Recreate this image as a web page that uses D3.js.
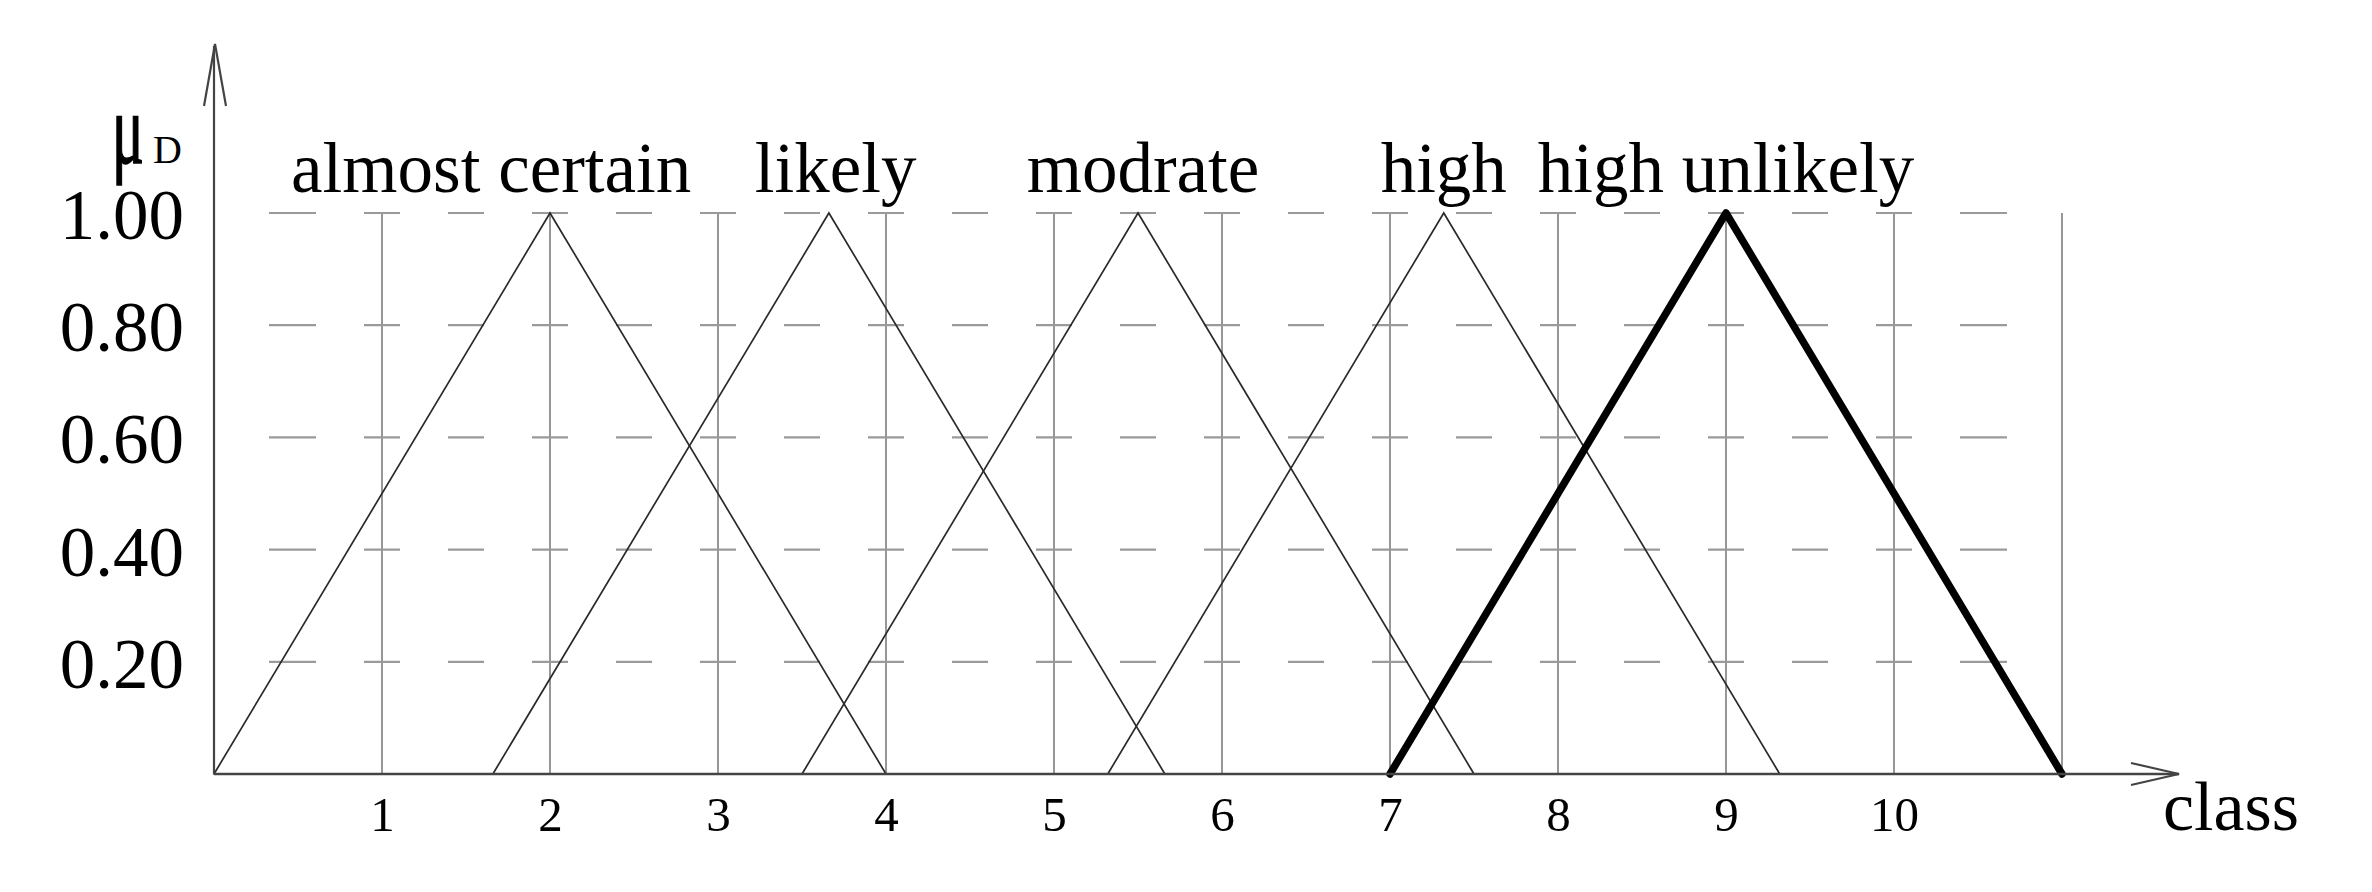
<!DOCTYPE html>
<html>
<head>
<meta charset="utf-8">
<script src="https://cdn.jsdelivr.net/npm/d3@7"></script>
<style>
  html, body { margin: 0; padding: 0; background: #fff; }
  svg { display: block; }
  text { font-family: "Liberation Serif", "Times New Roman", serif; fill: #000; }
</style>
</head>
<body>
<svg id="chart" width="2372" height="892"></svg>
<script>
// ---- data ----
const categories = ["almost certain", "likely", "modrate", "high", "high unlikely"];
const leftFoot   = [0.00, 1.66, 3.50, 5.32, 7.00];
const peak       = [2.00, 3.66, 5.50, 7.32, 9.00];
const rightFoot  = [4.00, 5.66, 7.50, 9.32, 11.00];
const highlighted = [false, false, false, false, true];
const labelPos   = [1.65, 3.70, 5.53, 7.32, 9.00];
const xTicks = [1, 2, 3, 4, 5, 6, 7, 8, 9, 10];
const xGrid  = [1, 2, 3, 4, 5, 6, 7, 8, 9, 10, 11];
const yTicks = [0.2, 0.4, 0.6, 0.8, 1.0];
const yTickLabels = ["0.20", "0.40", "0.60", "0.80", "1.00"];
const dashCenters = d3.range(1, 22).map(k => k / 2);   // 0.5 ... 10.5

// ---- layout ----
const svg = d3.select("#chart");
const x = d3.scaleLinear().domain([0, 11]).range([214, 2062]);
const y = d3.scaleLinear().domain([0, 1]).range([774, 213]);

const serif = '"Liberation Serif", "Times New Roman", serif';

// vertical grid lines
svg.append("g").selectAll("line").data(xGrid).join("line")
  .attr("x1", d => x(d)).attr("x2", d => x(d))
  .attr("y1", y(1)).attr("y2", y(0))
  .attr("stroke", "#8c8c8c").attr("stroke-width", 1.8);

// horizontal dashed grid lines (dashes centred on half units)
const dashHalf = 18, endExtra = 11;
const dashData = [];
yTicks.forEach(v => dashCenters.forEach((c, i) => {
  const x0 = x(c) - dashHalf - (i === 0 ? endExtra : 0);
  const x1 = x(c) + dashHalf + (i === dashCenters.length - 1 ? endExtra : 0);
  dashData.push({ v, x0, x1 });
}));
svg.append("g").selectAll("line").data(dashData).join("line")
  .attr("x1", d => d.x0).attr("x2", d => d.x1)
  .attr("y1", d => y(d.v)).attr("y2", d => y(d.v))
  .attr("stroke", "#9a9a9a").attr("stroke-width", 2.2);

// triangles
const tri = categories.map((c, i) => ({
  name: c, hl: highlighted[i],
  pts: [[leftFoot[i], 0], [peak[i], 1], [rightFoot[i], 0]]
}));
const line = d3.line().x(d => x(d[0])).y(d => y(d[1]));
svg.append("g").selectAll("path").data(tri).join("path")
  .attr("d", d => line(d.pts))
  .attr("fill", "none")
  .attr("stroke", d => d.hl ? "#000" : "#2a2a2a")
  .attr("stroke-width", d => d.hl ? 7.5 : 1.7)
  .attr("stroke-linecap", "round")
  .attr("stroke-linejoin", d => d.hl ? "round" : "miter");

// axes lines with open arrowheads
const axisColor = "#444";
const axG = svg.append("g").attr("stroke", axisColor).attr("fill", "none");
axG.append("line").attr("x1", x(0)).attr("x2", 2179).attr("y1", y(0)).attr("y2", y(0)).attr("stroke-width", 2.6);
axG.append("path").attr("d", `M2131,${y(0) - 11} L2179,${y(0)} L2131,${y(0) + 11}`).attr("stroke-width", 2.2);
axG.append("line").attr("x1", x(0)).attr("x2", x(0)).attr("y1", y(0)).attr("y2", 46).attr("stroke-width", 2.2);
axG.append("path").attr("d", `M${x(0) - 10},106 L${x(0) + 1},44 L${x(0) + 12},106`).attr("stroke-width", 2.2);

// x axis tick labels
const xAxis = d3.axisBottom(x).tickValues(xTicks).tickSize(0).tickPadding(22).tickFormat(d3.format("d"));
const gx = svg.append("g").attr("transform", `translate(0,${y(0)})`).call(xAxis);
gx.select(".domain").remove();
gx.selectAll("text").attr("font-family", serif).attr("font-size", 49).attr("fill", "#000");

// y axis tick labels
const yAxis = d3.axisLeft(y).tickValues(yTicks).tickSize(0).tickPadding(30)
  .tickFormat((d, i) => yTickLabels[i]);
const gy = svg.append("g").attr("transform", `translate(${x(0)},0)`).call(yAxis);
gy.select(".domain").remove();
gy.selectAll("text").attr("font-family", serif).attr("font-size", 71).attr("fill", "#000").attr("dy", "0.36em");

// category labels
svg.append("g").selectAll("text").data(categories).join("text")
  .attr("x", (d, i) => x(labelPos[i]))
  .attr("y", y(1) - 21)
  .attr("text-anchor", "middle")
  .attr("font-size", 71)
  .text(d => d);

// axis titles
svg.append("text").attr("x", 2163).attr("y", 830).attr("font-size", 70).text("class");
svg.append("text")
  .attr("transform", "translate(112,163) scale(0.62,1.05)")
  .attr("font-size", 96).attr("fill", "#000")
  .attr("stroke", "#000").attr("stroke-width", 1.6).text("μ");
svg.append("text").attr("x", 153).attr("y", 163).attr("font-size", 40).attr("fill", "#000").text("D");
</script>
</body>
</html>
